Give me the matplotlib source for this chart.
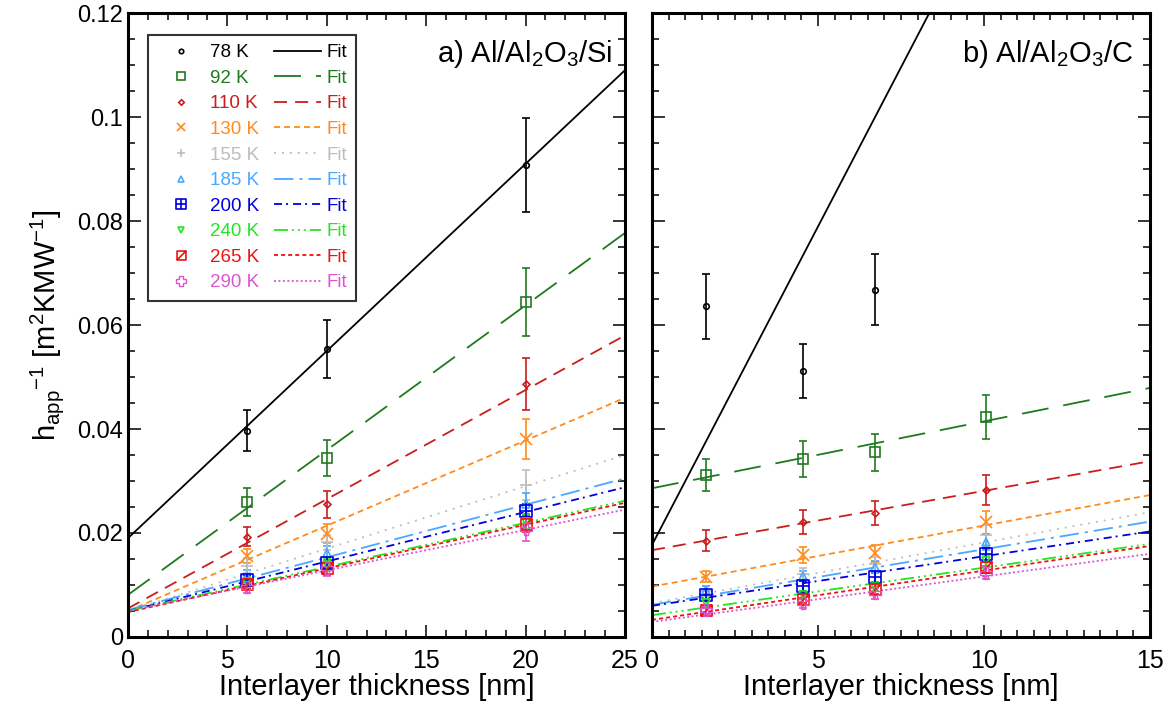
import matplotlib
matplotlib.use('Agg')
import matplotlib.pyplot as plt
from matplotlib.lines import Line2D
from matplotlib.path import Path
from matplotlib.ticker import MultipleLocator, FuncFormatter

plt.rcParams['font.family'] = ['Liberation Sans', 'DejaVu Sans']
plt.rcParams['mathtext.fontset'] = 'custom'
plt.rcParams['mathtext.rm'] = 'Liberation Sans'
plt.rcParams['mathtext.it'] = 'Liberation Sans:italic'
plt.rcParams['lines.scale_dashes'] = False

# Data
temps = ['78 K', '92 K', '110 K', '130 K', '155 K', '185 K', '200 K', '240 K', '265 K', '290 K']

# a) Al/Al2O3/Si
x_a = [6, 10, 20]
y_a = [
    [0.0397, 0.0554, 0.0908],
    [0.0259, 0.0344, 0.0644],
    [0.0193, 0.0255, 0.0486],
    [0.0156, 0.0199, 0.0381],
    [0.0137, 0.0182, 0.0292],
    [0.0116, 0.0161, 0.0256],
    [0.0110, 0.0143, 0.0243],
    [0.0105, 0.0138, 0.0222],
    [0.0102, 0.0132, 0.0217],
    [0.0096, 0.0133, 0.0207],
]
err_a = [
    [0.0040, 0.0055, 0.0090],
    [0.0027, 0.0035, 0.0065],
    [0.0018, 0.0026, 0.0050],
    [0.0013, 0.0018, 0.0039],
    [0.0014, 0.0015, 0.0029],
    [0.0012, 0.0014, 0.0020],
    [0.0010, 0.0011, 0.0013],
    [0.0010, 0.0012, 0.0014],
    [0.0010, 0.0012, 0.0015],
    [0.0012, 0.0015, 0.0022],
]
fit_a_x = [0, 25]
fit_a = [
    [0.0190, 0.1090],
    [0.0081, 0.0777],
    [0.0055, 0.0580],
    [0.0050, 0.0460],
    [0.0050, 0.0350],
    [0.0052, 0.0305],
    [0.0050, 0.0288],
    [0.0050, 0.0262],
    [0.0048, 0.0258],
    [0.0050, 0.0245],
]

# b) Al/Al2O3/C
x_b = [1.63, 4.54, 6.72, 10.05]
y_b = [
    [0.0636, 0.0512, 0.0668, None],
    [0.0312, 0.0342, 0.0355, 0.0423],
    [0.0185, 0.0221, 0.0239, 0.0283],
    [0.0116, 0.0158, 0.0161, 0.0221],
    [0.0089, 0.0121, 0.0140, 0.0196],
    [0.0090, 0.0117, 0.0135, 0.0183],
    [0.0081, 0.0098, 0.0116, 0.0159],
    [0.0066, 0.0081, 0.0097, 0.0147],
    [0.0051, 0.0074, 0.0092, 0.0134],
    [0.0052, 0.0065, 0.0084, 0.0124],
]
err_b = [
    [0.0063, 0.0052, 0.0068, 0],
    [0.0031, 0.0035, 0.0035, 0.0042],
    [0.0020, 0.0023, 0.0023, 0.0029],
    [0.0010, 0.0015, 0.0016, 0.0022],
    [0.0010, 0.0012, 0.0014, 0.0020],
    [0.0008, 0.0010, 0.0012, 0.0016],
    [0.0008, 0.0009, 0.0010, 0.0012],
    [0.0007, 0.0008, 0.0009, 0.0011],
    [0.0007, 0.0008, 0.0009, 0.0011],
    [0.0008, 0.0009, 0.0010, 0.0012],
]
fit_b_x = [0, 15]
fit_b = [
    [0.0177, 0.2014],
    [0.0286, 0.0479],
    [0.0167, 0.0338],
    [0.0097, 0.0273],
    [0.0065, 0.0240],
    [0.0062, 0.0222],
    [0.0060, 0.0203],
    [0.0042, 0.0179],
    [0.0033, 0.0175],
    [0.0029, 0.0160],
]

# Styles
colors = ['#000000', '#1f7a1f', '#c81e1e', '#ff8c1a', '#bdbdbd',
          '#4aa8ff', '#0000dd', '#22e622', '#f01010', '#dd55cc']

box_plus = Path([(-1, -1), (1, -1), (1, 1), (-1, 1), (-1, -1),
                 (0, -1), (0, 1), (-1, 0), (1, 0)],
                [Path.MOVETO, Path.LINETO, Path.LINETO, Path.LINETO, Path.CLOSEPOLY,
                 Path.MOVETO, Path.LINETO, Path.MOVETO, Path.LINETO])
box_slash = Path([(-1, -1), (1, -1), (1, 1), (-1, 1), (-1, -1),
                  (-1, -1), (1, 1)],
                 [Path.MOVETO, Path.LINETO, Path.LINETO, Path.LINETO, Path.CLOSEPOLY,
                  Path.MOVETO, Path.LINETO])
markers = ['o', 's', 'D', 'x', '+', '^', box_plus, 'v', box_slash, 'P']
msizes = [4, 7, 3.5, 8, 8, 6, 9, 6, 8, 9]
mews = [1.2, 1.2, 1.2, 1.2, 1.2, 1.2, 1.2, 1.2, 1.2, 1.0]
dashes = [None, (19.4, 10.8), (9.4, 5.8), (4.3, 2.9), (1.4, 4.3),
          (14, 4.3, 2.2, 4.3), (5.8, 2.9, 1.4, 3.6),
          (10, 2.9, 1.4, 2.9, 1.4, 2.9, 1.4, 2.9), (2.9, 2.2), (1.4, 1.8)]

fig = plt.figure(figsize=(11.75, 7.15), dpi=100)
ax_a = fig.add_axes([0.1089, 0.1091, 0.4230, 0.8727])
ax_b = fig.add_axes([0.5549, 0.1091, 0.4238, 0.8727])


def draw(ax, xs, ys, errs, fx, fits):
    for i in range(len(temps)):
        pts = [(x, y, e) for x, y, e in zip(xs, ys[i], errs[i]) if y is not None]
        px = [p[0] for p in pts]
        py = [p[1] for p in pts]
        pe = [p[2] for p in pts]
        ax.errorbar(px, py, yerr=pe, fmt='none', ecolor=colors[i], elinewidth=1.2,
                    capsize=3, capthick=1.2, zorder=3)
        ax.plot(px, py, ls='none', marker=markers[i], ms=msizes[i], mfc='none',
                mec=colors[i], mew=mews[i], zorder=4)
        line, = ax.plot(fx, fits[i], color=colors[i], lw=1.3, zorder=2)
        if dashes[i] is not None:
            line.set_dashes(dashes[i])


draw(ax_a, x_a, y_a, err_a, fit_a_x, fit_a)
draw(ax_b, x_b, y_b, err_b, fit_b_x, fit_b)

fmt = FuncFormatter(lambda v, p: '%g' % round(v, 4))
for ax, xmax, minor in [(ax_a, 25, 1), (ax_b, 15, 0.5)]:
    ax.set_xlim(0, xmax)
    ax.set_ylim(0, 0.12)
    ax.xaxis.set_major_locator(MultipleLocator(5))
    ax.xaxis.set_minor_locator(MultipleLocator(minor))
    ax.yaxis.set_major_locator(MultipleLocator(0.02))
    ax.yaxis.set_minor_locator(MultipleLocator(0.005))
    ax.yaxis.set_major_formatter(fmt)
    ax.tick_params(which='both', direction='in', top=True, right=True, width=1.1)
    ax.tick_params(which='major', length=9)
    ax.tick_params(which='minor', length=5)
    ax.tick_params(axis='x', labelsize=18, pad=9)
    ax.tick_params(axis='y', labelsize=17)
    for s in ax.spines.values():
        s.set_linewidth(2.2)
    ax.set_xlabel('Interlayer thickness [nm]', fontsize=21, labelpad=0)

ax_b.tick_params(axis='y', labelleft=False)
ax_a.set_ylabel(r'h$_{\mathregular{app}}$$^{\mathregular{-1}}$ [m$^{\mathregular{2}}$KMW$^{\mathregular{-1}}$]',
                fontsize=21, labelpad=8)

ax_a.text(0.974, 0.9215, r'a) Al/Al$_{\mathregular{2}}$O$_{\mathregular{3}}$/Si',
          transform=ax_a.transAxes, ha='right', va='baseline', fontsize=21)
ax_b.text(0.966, 0.9215, r'b) Al/Al$_{\mathregular{2}}$O$_{\mathregular{3}}$/C',
          transform=ax_b.transAxes, ha='right', va='baseline', fontsize=21)

# Legend: markers in the first column, fit lines in the second
handles = []
labels = []
for i, t in enumerate(temps):
    handles.append(Line2D([], [], ls='none', marker=markers[i], ms=msizes[i] * 0.8,
                          mfc='none', mec=colors[i], mew=mews[i]))
    labels.append(t)
for i in range(len(temps)):
    h = Line2D([], [], color=colors[i], lw=1.3)
    if dashes[i] is not None:
        h.set_dashes(dashes[i])
    handles.append(h)
    labels.append('Fit')

leg = ax_a.legend(handles, labels, ncol=2, loc='upper left', bbox_to_anchor=(0.040, 0.965),
                  borderaxespad=0, fontsize=13.5, handlelength=2.5, handletextpad=0.3,
                  columnspacing=0.8, labelspacing=0.45, fancybox=False, framealpha=1,
                  edgecolor='#333333', borderpad=0.5)
leg.get_frame().set_linewidth(1.5)
for i, txt in enumerate(leg.get_texts()):
    txt.set_color(colors[i % len(temps)])

fig.savefig('out.png', dpi=100)
